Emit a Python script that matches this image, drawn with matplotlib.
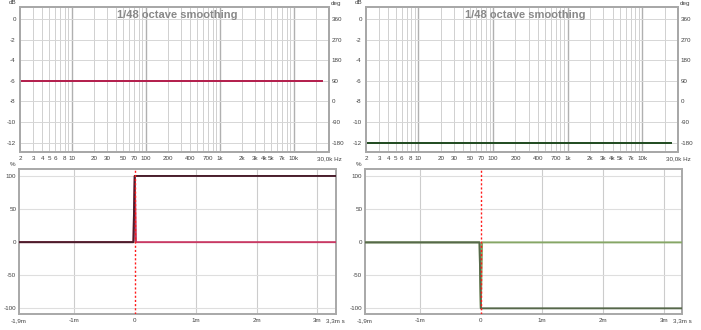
import matplotlib.pyplot as plt
import numpy as np

plt.rcParams['font.family'] = ['Liberation Sans', 'DejaVu Sans']

# frequency response traces (Hz, dB)
freq_left = [2, 24000]
spl_left = [-6, -6]
freq_right = [2, 24000]
spl_right = [-12, -12]

# impulse / step traces (time in ms, %)
t_ms = [-1.9, -0.0208, 0.0, 0.0208, 3.3]
impulse_left = [0, 0, 100, 0, 0]
step_left = [0, 0, 100, 100, 100]
impulse_right = [0, 0, -100, 0, 0]
step_right = [0, 0, -100, -100, -100]

freq_ticks = [2, 3, 4, 5, 6, 8, 10, 20, 30, 50, 70, 100, 200, 400, 700,
              1000, 2000, 3000, 4000, 5000, 7000, 10000, 30000]
freq_labels = ['2', '3', '4', '5', '6', '8', '10', '20', '30', '50', '70', '100',
               '200', '400', '700', '1k', '2k', '3k', '4k', '5k', '7k', '10k', '30,0k Hz']
db_ticks = [0, -2, -4, -6, -8, -10, -12]
deg_ticks = [360, 270, 180, 90, 0, -90, -180]
time_ticks = [-1.9, -1, 0, 1, 2, 3, 3.3]
time_labels = ['-1,9m', '-1m', '0', '1m', '2m', '3m', '3,3m s']
pct_ticks = [100, 50, 0, -50, -100]

W, H = 701, 330
fig = plt.figure(figsize=(W / 100, H / 100), dpi=100)
fig.patch.set_facecolor('white')

TICK_COLOR = '#404040'
FRAME = '#a8a8a8'
FS = 4.5


def px_axes(l, t, r, b):
    return fig.add_axes([l / W, 1 - b / H, (r - l) / W, (b - t) / H])


def style_frame(ax):
    for s in ax.spines.values():
        s.set_color(FRAME)
        s.set_linewidth(1.4)


def freq_panel(l, t, r, b, freq, spl, color):
    ax = px_axes(l, t, r, b)
    ylo, yhi = -12.92, 1.17
    ax.set_xscale('log')
    ax.set_xlim(2, 30000)
    ax.set_ylim(ylo, yhi)
    for dec in [1, 10, 100, 1000, 10000]:
        for m in range(1, 10):
            f = m * dec
            if 2 <= f <= 30000:
                if m == 1:
                    ax.axvline(f, color='#b0b0b0', lw=1.0, zorder=0)
                else:
                    ax.axvline(f, color='#d0d0d0', lw=0.7, zorder=0)
    for d in db_ticks:
        ax.axhline(d, color='#d6d6d6', lw=0.7, zorder=0)
    ax.plot(freq, spl, color=color, lw=1.4, zorder=3)
    ax.set_xticks(freq_ticks, freq_labels)
    ax.minorticks_off()
    ax.set_yticks(db_ticks, [str(d) for d in db_ticks])
    ax.tick_params(length=0, labelsize=FS, colors=TICK_COLOR, pad=3)
    style_frame(ax)

    ax2 = ax.twinx()
    ax2.set_ylim(360 + 45 * ylo, 360 + 45 * yhi)
    ax2.set_yticks(deg_ticks, [str(d) for d in deg_ticks])
    ax2.tick_params(length=0, labelsize=FS, colors=TICK_COLOR, pad=2)
    style_frame(ax2)

    ax.text(0.51, 0.945, '1/48 octave smoothing', transform=ax.transAxes,
            ha='center', va='center', fontsize=8.0, fontweight='bold',
            color='#888888')
    fig.text((l - 7) / W, 1 - 2 / H, 'dB', ha='center', va='center',
             fontsize=FS, color=TICK_COLOR)
    fig.text((r + 7) / W, 1 - 3 / H, 'deg', ha='center', va='center',
             fontsize=FS, color=TICK_COLOR)
    return ax


def time_panel(l, t, r, b, imp, step, imp_color, step_color):
    ax = px_axes(l, t, r, b)
    ax.set_xlim(-1.9, 3.3)
    ax.set_ylim(-108.6, 111.3)
    for x in [-1, 1, 2, 3]:
        ax.axvline(x, color='#cccccc', lw=0.8, zorder=0)
    for y in pct_ticks:
        ax.axhline(y, color='#dedede', lw=0.8, zorder=0)
    ax.plot(t_ms, imp, color=imp_color, lw=1.4, zorder=3)
    ax.plot(t_ms, step, color=step_color, lw=1.4, zorder=4)
    ax.axvline(0, color='#ff1a1a', lw=1.0, ls=(0, (1.5, 1.5)), zorder=5)
    ax.set_xticks(time_ticks, time_labels)
    ax.set_yticks(pct_ticks, [str(p) for p in pct_ticks])
    ax.tick_params(length=0, labelsize=FS, colors=TICK_COLOR, pad=3)
    ax.tick_params(axis='y', pad=2)
    style_frame(ax)
    fig.text((l - 6) / W, 1 - (t - 4) / H, '%', ha='center', va='center',
             fontsize=FS, color=TICK_COLOR)
    return ax


freq_panel(20, 7, 329, 152, freq_left, spl_left, '#b31c4b')
freq_panel(366, 7, 678, 152, freq_right, spl_right, '#1f4a1f')
time_panel(19, 168.5, 335.7, 314, impulse_left, step_left, '#c83a64', '#4a1e2c')
time_panel(365, 169, 682, 314, impulse_right, step_right, '#86a666', '#56684a')

fig.savefig('out.png', dpi=100)
